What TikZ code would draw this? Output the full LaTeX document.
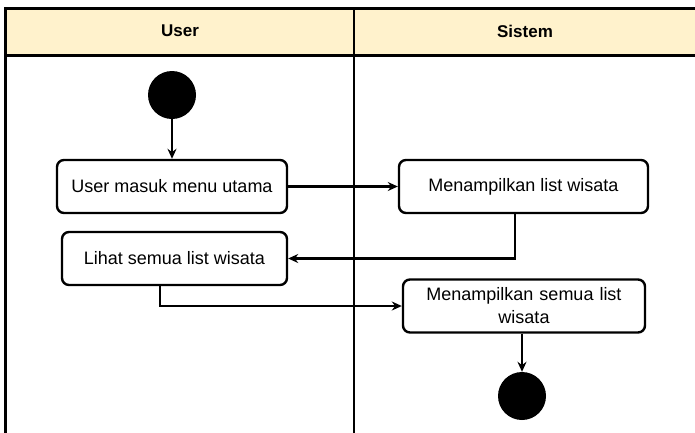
\documentclass[tikz,border=0pt]{standalone}
\usepackage{fontspec}
\setmainfont{Liberation Sans}
\usetikzlibrary{arrows.meta}
\definecolor{lanehead}{HTML}{FFF2CC}
\tikzset{
  x=1pt, y=-1pt,
  actbox/.style={draw, line width=2.4pt, rounded corners=7pt, fill=white,
    minimum height=53pt, align=center, font=\fontsize{18}{23}\selectfont, inner sep=3pt},
  flow/.style={draw, line width=2.4pt, -{Stealth[length=10pt,width=9pt]}},
  startdot/.style={circle, fill=black, minimum size=48pt, inner sep=0pt},
  lanetitle/.style={font=\bfseries\fontsize{17}{20}\selectfont},
}
\begin{document}
\begin{tikzpicture}
\useasboundingbox (0,0) rectangle (695,432);
\clip (0,0) rectangle (695,432);
% swimlane frame with header band
\fill[lanehead] (5,8) rectangle (705,55);
\draw[line width=3pt] (5,445) -- (5,8) -- (705,8);
\draw[line width=3pt] (5,55) -- (705,55);
\draw[line width=2.6pt] (354,8) -- (354,445);
\node[lanetitle] (laneuser) at (180,31) {User};
\node[lanetitle] (lanesys) at (525,31) {Sistem};

% activities
\node[startdot] (start) at (172,95) {};
\node[actbox, minimum width=230pt] (masuk) at (172,186.5) {User masuk menu utama};
\node[actbox, minimum width=249pt] (tampil) at (523.5,186.5) {Menampilkan list wisata};
\node[actbox, minimum width=225pt] (lihat) at (174.5,258.5) {Lihat semua list wisata};
\node[actbox, minimum width=242pt, text width=215pt] (semua) at (524,306) {Menampilkan semua list\\wisata};
\node[startdot] (stop) at (522,396) {};

% control flow
\draw[flow] (start) -- (masuk);
\draw[flow] (masuk) -- (tampil);
\draw[flow] (tampil.south -| 515,0) |- (lihat.east);
\draw[flow] (lihat.south -| 160,0) |- (semua.west);
\draw[flow] (semua.south -| 522,0) -- (stop);
\end{tikzpicture}
\end{document}
